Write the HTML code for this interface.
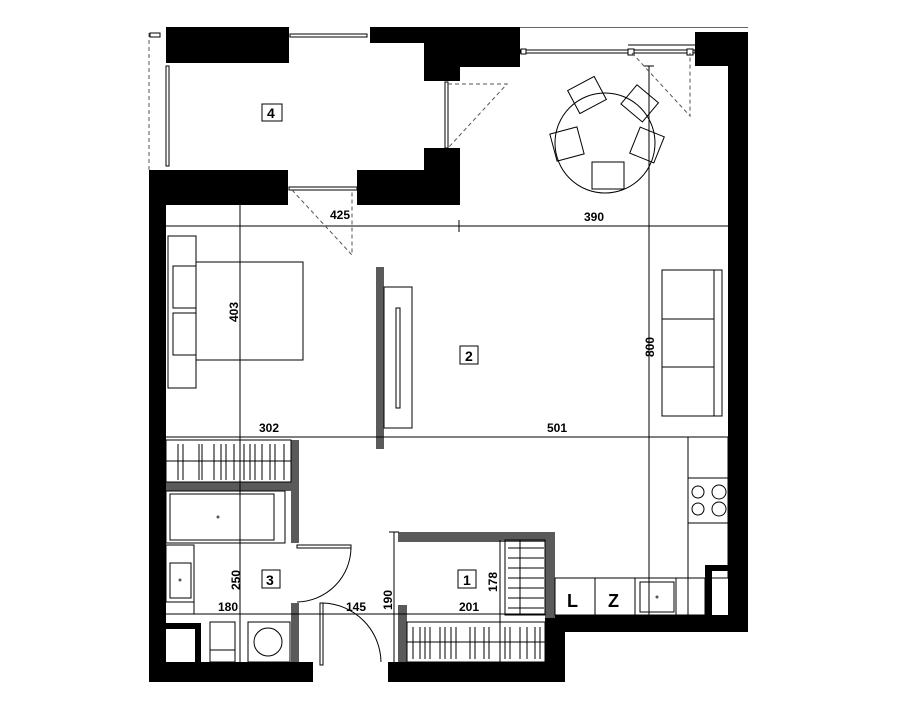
<!DOCTYPE html>
<html><head><meta charset="utf-8"><style>
html,body{margin:0;padding:0;background:#fff;}
svg{display:block;}
text{font-family:"Liberation Sans",sans-serif;font-weight:bold;fill:#000;}
</style></head><body>
<svg width="900" height="704" viewBox="0 0 900 704" xmlns="http://www.w3.org/2000/svg">
<g fill="#000">
<rect x="166" y="27" width="123" height="36"/>
<rect x="370" y="27" width="150" height="16"/>
<rect x="424" y="43" width="96" height="24"/>
<rect x="424" y="67" width="36" height="14"/>
<rect x="424" y="148" width="36" height="57"/>
<rect x="357" y="170" width="103" height="35"/>
<rect x="149" y="170" width="139" height="35"/>
<rect x="149" y="170" width="17" height="512"/>
<rect x="695" y="32" width="53" height="34"/>
<rect x="728" y="32" width="20" height="600"/>
<rect x="555" y="615" width="193" height="17"/>
<rect x="545" y="615" width="20" height="67"/>
<rect x="149" y="662" width="164" height="20"/>
<rect x="388" y="662" width="177" height="20"/>
<rect x="705" y="565" width="23" height="6"/>
<rect x="705" y="565" width="7" height="50"/>
<rect x="166" y="623" width="35" height="6"/>
<rect x="195" y="623" width="6" height="39"/>
</g>
<g fill="#5a5a5a">
<rect x="291" y="440" width="8" height="103"/>
<rect x="166" y="482" width="133" height="9"/>
<rect x="291" y="603" width="8" height="59"/>
<rect x="398" y="532" width="157" height="10"/>
<rect x="545" y="532" width="10" height="86"/>
<rect x="398" y="605" width="9" height="57"/>
<rect x="376" y="267" width="8" height="182"/>
</g>
<g fill="none" stroke="#000" stroke-width="1">
<line x1="520" y1="27.5" x2="748" y2="27.5" stroke="#666"/>
<rect x="384" y="287" width="28" height="141"/>
<rect x="396" y="308" width="4" height="100"/>
<line x1="166" y1="226" x2="728" y2="226"/>
<line x1="459" y1="220" x2="459" y2="232"/>
<line x1="166" y1="437" x2="728" y2="437"/>
<line x1="240" y1="205" x2="240" y2="662"/>
<line x1="649" y1="66" x2="649" y2="615"/>
<line x1="644" y1="66" x2="654" y2="66"/>
<line x1="166" y1="614" x2="545" y2="614"/>
<line x1="394" y1="532" x2="394" y2="662"/>
<line x1="389" y1="532" x2="399" y2="532"/>
<line x1="500" y1="540" x2="500" y2="662"/>
<rect x="150" y="33" width="10" height="4"/>
<rect x="290" y="34" width="77" height="3"/>
<rect x="166" y="66" width="3" height="100"/>
<rect x="445" y="82" width="3" height="66"/>
<rect x="289" y="187" width="68" height="3"/>
<rect x="520" y="50" width="175" height="3"/>
<line x1="628" y1="45" x2="695" y2="45"/>
<rect x="521" y="49" width="5" height="5" fill="#fff"/>
<rect x="628" y="49" width="6" height="6" fill="#fff"/>
<rect x="687" y="49" width="6" height="6" fill="#fff"/>
<rect x="168" y="236" width="28" height="152"/>
<rect x="173" y="266" width="23" height="42"/>
<rect x="173" y="313" width="23" height="42"/>
<rect x="196" y="262" width="107" height="98"/>
<rect x="662" y="270" width="60" height="146"/>
<line x1="714" y1="270" x2="714" y2="416"/>
<line x1="662" y1="319" x2="714" y2="319"/>
<line x1="662" y1="367" x2="714" y2="367"/>
<rect x="688" y="437" width="40" height="141"/>
<line x1="688" y1="478" x2="728" y2="478"/>
<line x1="688" y1="523" x2="728" y2="523"/>
<circle cx="698" cy="492" r="6"/><circle cx="719" cy="492" r="7"/>
<circle cx="698" cy="509" r="6"/><circle cx="719" cy="509" r="7"/>
<rect x="555" y="578" width="150" height="37"/>
<line x1="595" y1="578" x2="595" y2="615"/>
<line x1="635" y1="578" x2="635" y2="615"/>
<line x1="676" y1="578" x2="676" y2="615"/>
<rect x="640" y="582" width="34" height="30"/>
<line x1="688" y1="578" x2="688" y2="615"/>
<circle cx="605" cy="143" r="50"/>
<rect x="572" y="82" width="30" height="26" transform="rotate(-28 587 95)"/>
<rect x="626" y="91" width="28" height="25" transform="rotate(40 640 103)"/>
<rect x="634" y="131" width="26" height="28" transform="rotate(22 647 145)"/>
<rect x="592" y="162" width="32" height="27"/>
<rect x="553" y="130" width="28" height="28" transform="rotate(-15 567 144)"/>
<rect x="166" y="440" width="125" height="42"/>
<line x1="166" y1="461" x2="291" y2="461"/>
<rect x="166" y="491" width="119" height="52"/>
<rect x="170" y="494" width="104" height="46"/>
<rect x="166" y="545" width="28" height="57"/>
<rect x="170" y="563" width="21" height="35"/>
<line x1="166" y1="602" x2="194" y2="602"/>
<line x1="194" y1="545" x2="194" y2="614"/>
<rect x="210" y="622" width="25" height="40"/>
<line x1="210" y1="650" x2="235" y2="650"/>
<rect x="248" y="622" width="42" height="40"/>
<circle cx="268" cy="642" r="14"/>
<rect x="297" y="545" width="54" height="3"/>
<path d="M351 548 A55 55 0 0 1 297 602"/>
<rect x="320" y="603" width="3" height="62"/>
<path d="M323 603 A60 60 0 0 1 381 662"/>
<rect x="505" y="540" width="40" height="75"/>
<line x1="520" y1="540" x2="520" y2="615"/>
<rect x="407" y="622" width="138" height="40"/>
<line x1="407" y1="642" x2="545" y2="642"/>
<rect x="262" y="104" width="20" height="17"/>
<rect x="460" y="346" width="18" height="18"/>
<rect x="262" y="570" width="18" height="18"/>
<rect x="458" y="570" width="18" height="18"/>
</g>
<g stroke="#000" stroke-width="1">
<path d="M178 444v36M183 444v36M199 444v36M202 444v36M214 444v36M221 444v36M226 444v36M234 444v36M244 444v36M250 444v36M255 444v36M262 444v36M270 444v36M275 444v36M284 444v36"/>
<path d="M508 548h36M508 558h36M508 568h36M508 578h36M508 588h36M508 598h36M508 608h36"/>
<path d="M413 627v32M420 627v32M425 627v32M430 627v32M440 627v32M445 627v32M451 627v32M456 627v32M470 627v32M475 627v32M484 627v32M489 627v32M505 627v32M510 627v32M520 627v32M527 627v32M535 627v32M540 627v32"/>
</g>
<g fill="none" stroke="#555" stroke-width="1" stroke-dasharray="4,3">
<line x1="149" y1="33" x2="149" y2="170"/>
<path d="M448 84 L507 84 L448 148"/>
<path d="M292 190 L352 255 L352 190"/>
<path d="M632 53 L690 116 L690 53"/>
</g>
<circle cx="218" cy="517" r="1.5" fill="#555"/>
<circle cx="180" cy="580" r="1.5" fill="#555"/>
<circle cx="657" cy="597" r="1.5" fill="#555"/>
<g font-size="12">
<text x="330" y="219">425</text>
<text x="584" y="221">390</text>
<text x="259" y="432">302</text>
<text x="547" y="432">501</text>
<text x="218" y="611">180</text>
<text x="346" y="611">145</text>
<text x="459" y="611">201</text>
<text transform="translate(238 322) rotate(-90)">403</text>
<text transform="translate(240 590) rotate(-90)">250</text>
<text transform="translate(654 357) rotate(-90)">800</text>
<text transform="translate(392 610) rotate(-90)">190</text>
<text transform="translate(497 592) rotate(-90)">178</text>
</g>
<g font-size="14">
<text x="267" y="118">4</text>
<text x="465" y="361">2</text>
<text x="266" y="585">3</text>
<text x="463" y="585">1</text>
</g>
<g font-size="18">
<text x="567" y="607">L</text>
<text x="608" y="607">Z</text>
</g>
</svg>
</body></html>
